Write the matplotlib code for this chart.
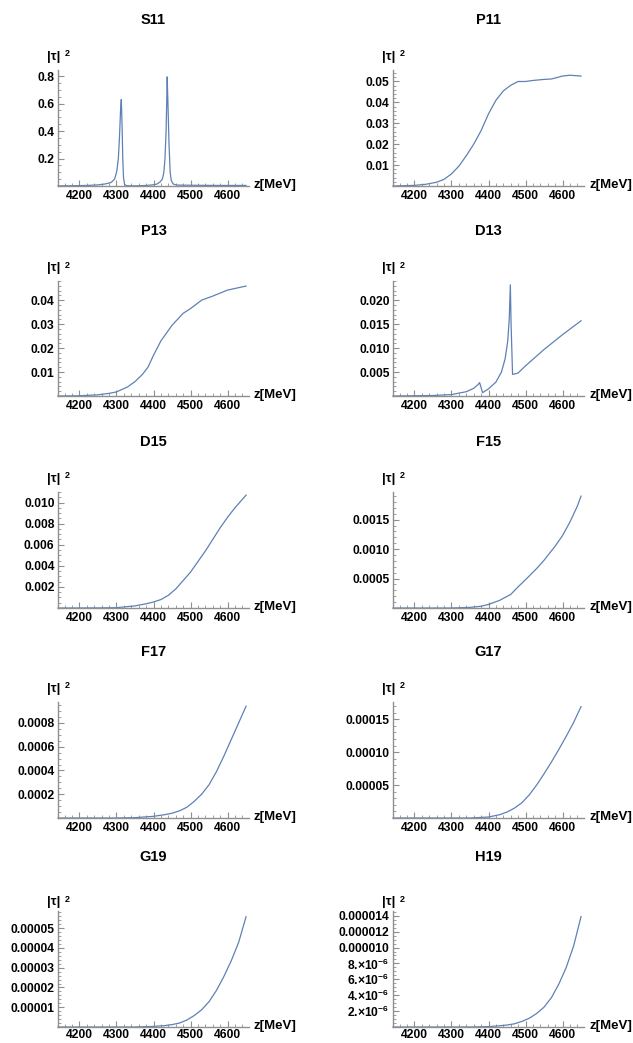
import matplotlib
matplotlib.use('Agg')
import matplotlib.pyplot as plt
from matplotlib.ticker import MultipleLocator, AutoMinorLocator

plt.rcParams['font.family'] = ['Liberation Sans', 'DejaVu Sans']
plt.rcParams['font.weight'] = 'bold'
plt.rcParams['mathtext.fontset'] = 'custom'
plt.rcParams['mathtext.rm'] = 'Liberation Sans:bold'
plt.rcParams['mathtext.default'] = 'rm'

# ---------------- data ----------------
x_ticks = [4200, 4300, 4400, 4500, 4600]

x_s11 = [4142, 4180, 4220, 4250, 4270, 4285, 4295, 4301, 4305, 4308, 4311, 4313, 4315, 4317,
         4319, 4322, 4328, 4350, 4380, 4400, 4410, 4418, 4424, 4428, 4431, 4434, 4436, 4437,
         4439, 4442, 4445, 4448, 4453, 4462, 4480, 4520, 4580, 4650]
y_s11 = [0.001, 0.002, 0.004, 0.008, 0.015, 0.025, 0.05, 0.11, 0.2, 0.35, 0.55, 0.63, 0.45, 0.2,
         0.06, 0.01, 0.002, 0.001, 0.004, 0.009, 0.015, 0.03, 0.05, 0.1, 0.2, 0.4, 0.65, 0.795,
         0.6, 0.3, 0.1, 0.04, 0.015, 0.007, 0.006, 0.005, 0.004, 0.004]

x_p11 = [4142, 4200, 4230, 4260, 4280, 4300, 4320, 4340, 4360, 4380, 4400, 4420, 4440, 4460,
         4480, 4500, 4520, 4550, 4570, 4600, 4620, 4650]
y_p11 = [0.0, 0.0003, 0.0008, 0.0018, 0.0032, 0.0058, 0.0095, 0.0145, 0.0200, 0.0265, 0.0345,
         0.0410, 0.0455, 0.0482, 0.0500, 0.0500, 0.0505, 0.0510, 0.0512, 0.0526, 0.0530, 0.0526]

x_p13 = [4142, 4200, 4250, 4280, 4300, 4330, 4350, 4370, 4385, 4400, 4420, 4450, 4480, 4500,
         4530, 4560, 4600, 4650]
y_p13 = [0.0, 0.0001, 0.0005, 0.0011, 0.0017, 0.0038, 0.0060, 0.0090, 0.0120, 0.0170, 0.0230,
         0.0295, 0.0345, 0.0365, 0.0400, 0.0417, 0.0442, 0.0459]

x_d13 = [4142, 4250, 4300, 4340, 4360, 4372, 4376, 4384, 4400, 4420, 4435, 4445, 4452, 4456,
         4459, 4461, 4465, 4480, 4500, 4550, 4600, 4650]
y_d13 = [0.0, 0.0001, 0.0003, 0.0009, 0.0016, 0.0024, 0.0028, 0.0007, 0.0015, 0.0029, 0.0050,
         0.0078, 0.0115, 0.0160, 0.0232, 0.0150, 0.0045, 0.0048, 0.0063, 0.0097, 0.0128, 0.0157]

x_d15 = [4142, 4250, 4300, 4350, 4380, 4400, 4420, 4440, 4460, 4480, 4500, 4520, 4540, 4560,
         4580, 4600, 4620, 4650]
y_d15 = [0.0, 0.00001, 0.00003, 0.0002, 0.0004, 0.00057, 0.0008, 0.0012, 0.0018, 0.0026,
         0.0034, 0.0044, 0.0054, 0.0065, 0.0076, 0.0086, 0.0095, 0.0107]

x_f15 = [4142, 4300, 4350, 4380, 4400, 4430, 4460, 4480, 4500, 4530, 4550, 4580, 4600, 4620,
         4640, 4650]
y_f15 = [0.0, 0.0, 0.00001, 0.00003, 0.00006, 0.00013, 0.00023, 0.00036, 0.00048, 0.00067,
         0.00081, 0.00105, 0.00123, 0.00146, 0.00173, 0.0019]

x_f17 = [4142, 4300, 4350, 4400, 4430, 4450, 4470, 4490, 4510, 4530, 4550, 4570, 4590, 4610,
         4630, 4650]
y_f17 = [0.0, 0.0, 0.000003, 0.000014, 0.000028, 0.00004, 0.00006, 0.00009, 0.00014, 0.0002,
         0.00028, 0.00039, 0.00052, 0.00066, 0.0008, 0.00094]

x_g17 = [4142, 4350, 4400, 4430, 4450, 4470, 4490, 4510, 4530, 4550, 4570, 4590, 4610, 4630,
         4650]
y_g17 = [0.0, 0.0, 0.0000015, 0.000005, 0.000009, 0.000015, 0.000023, 0.000035, 0.00005,
         0.000067, 0.000085, 0.000104, 0.000124, 0.000145, 0.000169]

x_g19 = [4142, 4350, 4400, 4430, 4450, 4470, 4490, 4510, 4530, 4550, 4570, 4590, 4610, 4630,
         4650]
y_g19 = [0.0, 0.0, 0.0000003, 0.0000007, 0.0000012, 0.000002, 0.0000035, 0.0000058, 0.0000087,
         0.0000128, 0.0000185, 0.0000255, 0.0000335, 0.0000428, 0.0000558]

x_h19 = [4142, 4350, 4400, 4430, 4450, 4470, 4490, 4510, 4530, 4550, 4570, 4590, 4610, 4630,
         4650]
y_h19 = [0.0, 0.0, 0.00000005, 0.00000015, 0.00000025, 0.0000004, 0.0000007, 0.0000011,
         0.0000017, 0.0000025, 0.0000037, 0.0000054, 0.0000075, 0.0000102, 0.0000139]

titles = ['S11', 'P11', 'P13', 'D13', 'D15', 'F15', 'F17', 'G17', 'G19', 'H19']
xs = [x_s11, x_p11, x_p13, x_d13, x_d15, x_f15, x_f17, x_g17, x_g19, x_h19]
ys = [y_s11, y_p11, y_p13, y_d13, y_d15, y_f15, y_f17, y_g17, y_g19, y_h19]
y_tops = [0.845, 0.0555, 0.048, 0.024, 0.011, 0.00197, 0.000976, 0.000176, 0.0000587, 0.0000146]
y_tick_vals = [
    [0.2, 0.4, 0.6, 0.8],
    [0.01, 0.02, 0.03, 0.04, 0.05],
    [0.01, 0.02, 0.03, 0.04],
    [0.005, 0.010, 0.015, 0.020],
    [0.002, 0.004, 0.006, 0.008, 0.010],
    [0.0005, 0.0010, 0.0015],
    [0.0002, 0.0004, 0.0006, 0.0008],
    [0.00005, 0.00010, 0.00015],
    [0.00001, 0.00002, 0.00003, 0.00004, 0.00005],
    [2e-6, 4e-6, 6e-6, 8e-6, 10e-6, 12e-6, 14e-6],
]
y_tick_labels = [
    ['0.2', '0.4', '0.6', '0.8'],
    ['0.01', '0.02', '0.03', '0.04', '0.05'],
    ['0.01', '0.02', '0.03', '0.04'],
    ['0.005', '0.010', '0.015', '0.020'],
    ['0.002', '0.004', '0.006', '0.008', '0.010'],
    ['0.0005', '0.0010', '0.0015'],
    ['0.0002', '0.0004', '0.0006', '0.0008'],
    ['0.00005', '0.00010', '0.00015'],
    ['0.00001', '0.00002', '0.00003', '0.00004', '0.00005'],
    ['2.\u00d710$^{-6}$', '4.\u00d710$^{-6}$', '6.\u00d710$^{-6}$', '8.\u00d710$^{-6}$',
     '0.000010', '0.000012', '0.000014'],
]
y_minor_div = [4, 5, 5, 5, 4, 5, 4, 5, 5, 4]

# ---------------- layout ----------------
W, H = 633, 1043
fig = plt.figure(figsize=(W / 100, H / 100), dpi=100)

LINE = '#5E81B5'
AXC = '#8f8f8f'
col_left = [58, 393]
col_w = 191
rows = [(70, 186), (281, 396), (492, 608), (702, 818), (911, 1027)]
title_y = [20, 231, 442, 652, 857]

for i in range(10):
    r, c = divmod(i, 2)
    top, bot = rows[r]
    left = col_left[c]
    ax = fig.add_axes([left / W, 1 - bot / H, col_w / W, (bot - top) / H])
    ax.plot(xs[i], ys[i], color=LINE, lw=0.9, clip_on=False)
    ax.set_xlim(4142, 4658)
    ax.set_ylim(0, y_tops[i])
    ax.patch.set_alpha(0)
    for s in ['top', 'right']:
        ax.spines[s].set_visible(False)
    for s in ['left', 'bottom']:
        ax.spines[s].set_color(AXC)
        ax.spines[s].set_linewidth(1.0)
    ax.set_xticks(x_ticks)
    ax.set_xticklabels([str(v) for v in x_ticks])
    ax.xaxis.set_minor_locator(MultipleLocator(20))
    ax.set_yticks(y_tick_vals[i])
    ax.set_yticklabels(y_tick_labels[i])
    ax.yaxis.set_minor_locator(AutoMinorLocator(y_minor_div[i]))
    ax.tick_params(which='both', direction='in', color=AXC, labelsize=8.7,
                   labelcolor='black')
    ax.tick_params(which='major', length=4, width=0.8)
    ax.tick_params(which='minor', length=2, width=0.6)
    ax.tick_params(axis='x', which='major', pad=(3 if r < 4 else 1.5))
    ax.tick_params(axis='y', which='major', pad=2.5)
    for lab in ax.get_xticklabels() + ax.get_yticklabels():
        lab.set_fontweight('bold')

    # title
    fig.text((left + col_w / 2) / W, 1 - title_y[r] / H, titles[i],
             ha='center', va='center', fontsize=10.5, fontweight='bold')
    # y label
    yl = top - (13 if r < 4 else 9)
    fig.text((left - 11) / W, 1 - yl / H, '|\u03c4|', ha='left', va='center',
             fontsize=9.5, fontweight='bold')
    fig.text((left + 7) / W, 1 - (yl - 3) / H, '2', ha='left', va='center',
             fontsize=6.5, fontweight='bold')
    # x label
    fig.text((left + col_w + 5) / W, 1 - (bot - 1) / H, 'z[MeV]', ha='left',
             va='center', fontsize=9.5, fontweight='bold')

fig.savefig('out.png', dpi=100)
